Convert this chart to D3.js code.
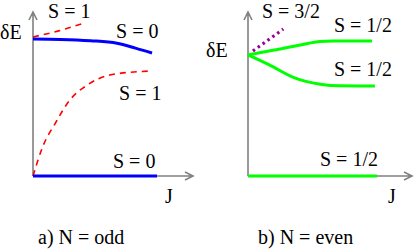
<!DOCTYPE html>
<meta charset="utf-8" />
<body style="margin:0">
<svg width="415" height="249" font-family="Liberation Serif"></svg>
<script src="https://d3js.org/d3.v7.min.js"></script>
<script>
  // curves as [J, dE] pairs, J and dE both on a 0..10 scale
  const oddS0top = [[0, 8.35], [1.7, 8.33], [3.6, 8.25], [5.25, 8.1], [6.4, 7.8], [7.44, 7.5]];
  const oddS1top = [[0, 8.48], [1.6, 8.85], [3.1, 9.3]];
  const oddS1low = [[0, 0], [0.6, 1.77], [1.4, 3.23], [2.3, 4.63], [3.4, 5.55], [4.8, 6.16], [7.3, 6.4]];
  const oddS0low = [[0, 0], [7.75, 0]];

  const evenUp = [[0, 7.38], [1.6, 7.68], [3.2, 7.99], [4.4, 8.2], [5.2, 8.23], [7.56, 8.23]];
  const evenDown = [[0, 7.38], [1.3, 6.77], [2.8, 6.0], [4.4, 5.6], [5.6, 5.5], [7.74, 5.49]];
  const evenS32 = [[0.3, 7.62], [2.15, 8.96]];
  const evenLow = [[0, 0], [7.87, 0]];

  const oddLabels = [
    { text: 'S = 1', J: 0.94, E: 9.63 },
    { text: 'S = 0', J: 5.19, E: 8.41 },
    { text: 'S = 1', J: 5.38, E: 4.63 },
    { text: 'S = 0', J: 5.0, E: 0.49 }
  ];
  const evenLabels = [
    { text: 'S = 3/2', J: 0.85, E: 9.63 },
    { text: 'S = 1/2', J: 5.24, E: 8.78 },
    { text: 'S = 1/2', J: 5.24, E: 6.1 },
    { text: 'S = 1/2', J: 4.39, E: 0.61 }
  ];

  const svg = d3.select('svg');

  function txt(x, y, s) {
    return svg.append('text').attr('x', x).attr('y', y)
      .style('font-family', '"Liberation Serif"').attr('font-size', 20)
      .text(s);
  }

  function panel(ox, tipX, caption, capX, dEx, dEy, jx) {
    const x = d3.scaleLinear().domain([0, 10]).range([ox, tipX]);
    const y = d3.scaleLinear().domain([0, 10]).range([176, 12]);
    // axes with arrowheads
    svg.append('path').attr('stroke', '#808080').attr('stroke-width', 1.6).attr('fill', 'none')
      .attr('d', `M${ox},${y(0)}V${y(10)}M${ox - 4},${y(10) + 8}L${ox},${y(10)}L${ox + 4},${y(10) + 8}`);
    svg.append('path').attr('stroke', '#808080').attr('stroke-width', 1.6).attr('fill', 'none')
      .attr('d', `M${ox},${y(0)}H${x(10)}M${x(10) - 8},${y(0) - 4}L${x(10)},${y(0)}L${x(10) - 8},${y(0) + 4}`);
    txt(dEx, dEy, 'δE');
    txt(jx, 203, 'J');
    txt(capX, 244, caption);
    const line = d3.line().x(d => x(d[0])).y(d => y(d[1])).curve(d3.curveMonotoneX);
    return { x, y, line };
  }

  const a = panel(33, 193, 'a) N = odd', 38, 0, 39, 165);
  const b = panel(248, 412, 'b) N = even', 258, 206, 57, 388);

  function draw(p, data, color, width, dash) {
    svg.append('path').datum(data)
      .attr('d', p.line)
      .attr('fill', 'none')
      .attr('stroke', color)
      .attr('stroke-width', width)
      .attr('stroke-dasharray', dash || null);
  }

  draw(a, oddS1top, '#ff0000', 1.6, '6,5');
  draw(a, oddS1low, '#ff0000', 1.6, '6,5');
  draw(a, oddS0top, '#0000ff', 3);
  draw(a, oddS0low, '#0000ff', 3);

  draw(b, evenS32, '#990099', 3.2, '2.5,3.5');
  draw(b, evenUp, '#00ff00', 3);
  draw(b, evenDown, '#00ff00', 3);
  draw(b, evenLow, '#00ff00', 3);

  oddLabels.forEach(d => txt(a.x(d.J), a.y(d.E), d.text));
  evenLabels.forEach(d => txt(b.x(d.J), b.y(d.E), d.text));
</script>
</body>
